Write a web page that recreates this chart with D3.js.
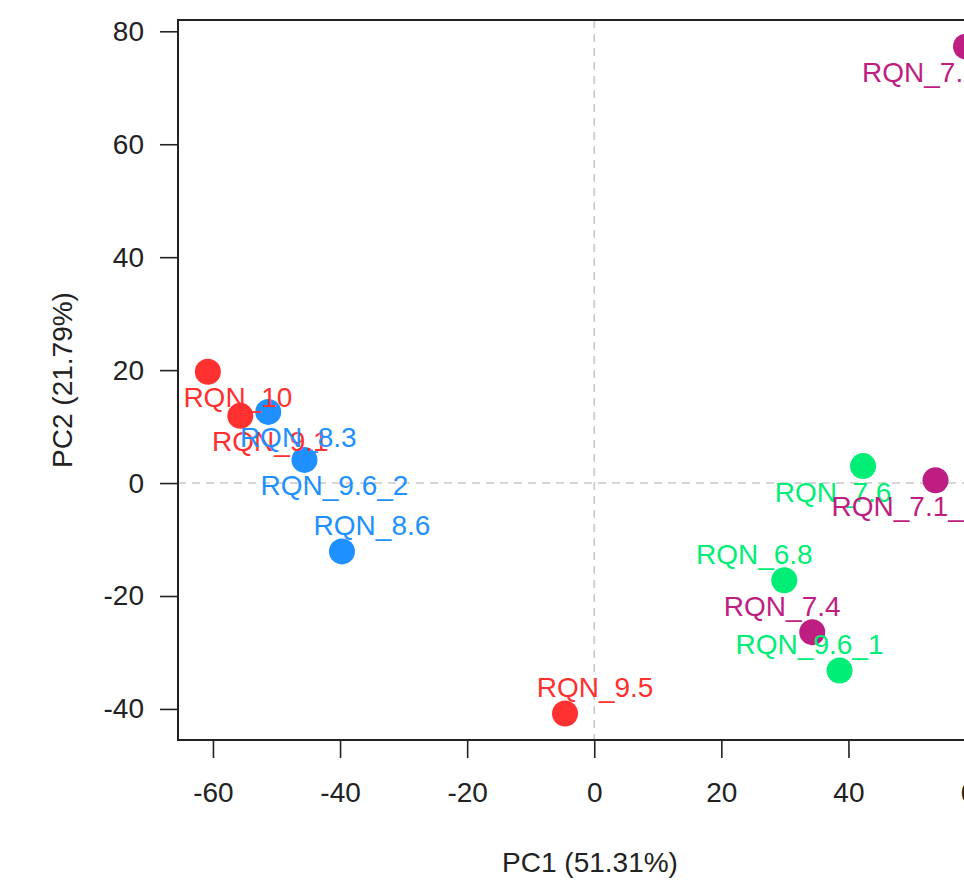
<!DOCTYPE html>
<html>
<head>
<meta charset="utf-8">
<script src="https://cdn.jsdelivr.net/npm/d3@7"></script>
<style>
  html, body { margin: 0; padding: 0; background: #fff; }
  svg { display: block; }
  text { font-family: "Liberation Sans", Arial, Helvetica, sans-serif; }
</style>
</head>
<body>
<div id="chart"></div>
<script>
// ---- data ----
const sampleNames = ["RQN_10", "RQN_9.1", "RQN_9.5",
                     "RQN_8.3", "RQN_9.6_2", "RQN_8.6",
                     "RQN_7.6", "RQN_6.8", "RQN_9.6_1",
                     "RQN_7.1_1", "RQN_7.4", "RQN_7.1_2"];
const pc1 = [-60.8, -55.7, -4.6,
             -51.3, -45.6, -39.7,
              42.3,  29.9,  38.6,
              53.7,  34.3,  58.5];
const pc2 = [ 19.7,  11.9, -40.8,
              12.6,   4.1, -12.1,
               3.0, -17.2, -33.2,
               0.5, -26.4,  77.3];
const groups = ["A", "A", "A", "B", "B", "B", "C", "C", "C", "D", "D", "D"];
const groupNames = ["A", "B", "C", "D"];
const groupColors = ["#FF3030", "#1E90FF", "#00EE76", "#BE1E82"];
// label placement relative to point: t/b = above/below, l/r = left/right
const labelSide = ["br", "br", "tr",
                   "br", "br", "tr",
                   "bl", "tl", "tl",
                   "bl", "tl", "bl"];
const xTicks = [-60, -40, -20, 0, 20, 40, 60];
const yTicks = [-40, -20, 0, 20, 40, 60, 80];
const xTitle = "PC1 (51.31%)";
const yTitle = "PC2 (21.79%)";

// ---- layout ----
const W = 964, H = 880;
const plotLeft = 178, plotTop = 20, plotBottom = 740;
const xDomain = [-65.5, 63.2], yDomain = [-45.5, 82];
const pxPerUnitX = 6.355;
const plotRight = plotLeft + (xDomain[1] - xDomain[0]) * pxPerUnitX;

const svg = d3.select("#chart").append("svg")
  .attr("width", W).attr("height", H);

const x = d3.scaleLinear().domain(xDomain).range([plotLeft, plotRight]);
const y = d3.scaleLinear().domain(yDomain).range([plotBottom, plotTop]);
const color = d3.scaleOrdinal().domain(groupNames).range(groupColors);

// dashed zero lines
svg.append("line")
  .attr("x1", x(0)).attr("x2", x(0))
  .attr("y1", plotTop).attr("y2", plotBottom)
  .attr("stroke", "#c8c8c8").attr("stroke-width", 1.6)
  .attr("stroke-dasharray", "8,6");
svg.append("line")
  .attr("x1", plotLeft).attr("x2", plotRight)
  .attr("y1", y(0)).attr("y2", y(0))
  .attr("stroke", "#c8c8c8").attr("stroke-width", 1.6)
  .attr("stroke-dasharray", "8,6");

// axes
const axisFont = 28;
const xAxis = svg.append("g")
  .attr("transform", `translate(0,${plotBottom})`)
  .call(d3.axisBottom(x).tickValues(xTicks).tickSize(18).tickPadding(24)
        .tickFormat(d3.format("d")));
const yAxis = svg.append("g")
  .attr("transform", `translate(${plotLeft},0)`)
  .call(d3.axisLeft(y).tickValues(yTicks).tickSize(18).tickPadding(16)
        .tickFormat(d3.format("d")));
[xAxis, yAxis].forEach(g => {
  g.select(".domain").remove();
  g.selectAll(".tick line").attr("stroke", "#222").attr("stroke-width", 1.6);
  g.selectAll(".tick text")
    .attr("fill", "#222")
    .style("font-size", axisFont + "px")
    .style("font-family", "'Liberation Sans', Arial, sans-serif");
});
xAxis.selectAll(".tick text").text(d => d < 0 ? "-" + Math.abs(d) : d);
yAxis.selectAll(".tick text").text(d => d < 0 ? "-" + Math.abs(d) : d);

// box
svg.append("rect")
  .attr("x", plotLeft).attr("y", plotTop)
  .attr("width", plotRight - plotLeft).attr("height", plotBottom - plotTop)
  .attr("fill", "none").attr("stroke", "#222").attr("stroke-width", 2);

// points
const idx = d3.range(sampleNames.length);
svg.append("g").selectAll("circle")
  .data(idx).join("circle")
  .attr("cx", i => x(pc1[i]))
  .attr("cy", i => y(pc2[i]))
  .attr("r", 13)
  .attr("fill", i => color(groups[i]));

// labels
const labelFont = 28;
const ldx = 30, ldy = 26;
svg.append("g").selectAll("text")
  .data(idx).join("text")
  .attr("x", i => x(pc1[i]) + (labelSide[i].includes("r") ? ldx : -ldx))
  .attr("y", i => y(pc2[i]) + (labelSide[i].includes("b") ? ldy : -ldy) + labelFont * 0.34)
  .attr("text-anchor", "middle")
  .attr("fill", i => color(groups[i]))
  .style("font-size", labelFont + "px")
  .text(i => sampleNames[i]);

// axis titles
svg.append("text")
  .attr("x", (plotLeft + 1002) / 2).attr("y", 872)
  .attr("text-anchor", "middle")
  .attr("fill", "#222")
  .style("font-size", axisFont + "px")
  .text(xTitle);
svg.append("text")
  .attr("transform", `translate(72,${(plotTop + plotBottom) / 2}) rotate(-90)`)
  .attr("text-anchor", "middle")
  .attr("fill", "#222")
  .style("font-size", axisFont + "px")
  .text(yTitle);
</script>
</body>
</html>
